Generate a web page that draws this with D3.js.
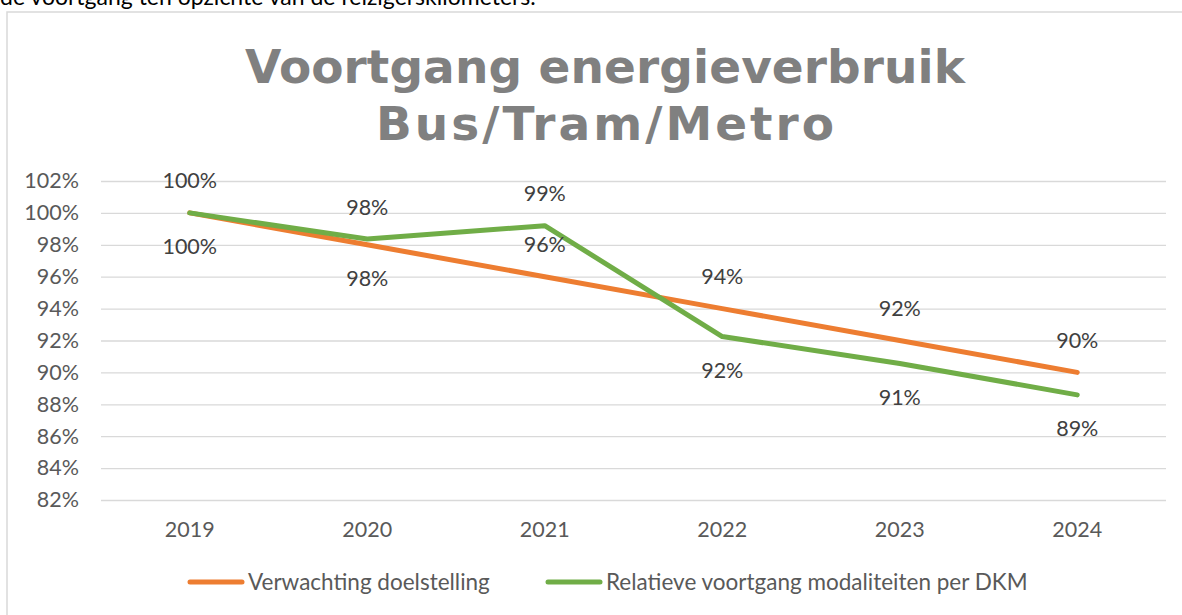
<!DOCTYPE html>
<html>
<head>
<meta charset="utf-8">
<script src="https://cdn.jsdelivr.net/npm/d3@7"></script>
<style>
  html, body { margin: 0; padding: 0; background: #fff; overflow: hidden; }
  svg { display: block; }
</style>
</head>
<body>
<svg id="chart" width="1182" height="615"></svg>
<script>
// ---- data ----
const years = ["2019", "2020", "2021", "2022", "2023", "2024"];
const expected = [100, 98, 96, 94, 92, 90];              // Verwachting doelstelling
const actual = [100, 98.36, 99.2, 92.25, 90.56, 88.59];  // Relatieve voortgang modaliteiten per DKM
const expectedLabels = ["100%", "98%", "96%", "94%", "92%", "90%"];
const actualLabels = ["100%", "98%", "99%", "92%", "91%", "89%"];
const expectedLabelSide = ["below", "below", "above", "above", "above", "above"];
const actualLabelSide = ["above", "above", "above", "below", "below", "below"];
const yTicks = [82, 84, 86, 88, 90, 92, 94, 96, 98, 100, 102];
const seriesNames = ["Verwachting doelstelling", "Relatieve voortgang modaliteiten per DKM"];
const titleLines = ["Voortgang energieverbruik", "Bus/Tram/Metro"];
const introText = "de voortgang ten opzichte van de reizigerskilometers.";

// ---- styles ----
const ORANGE = "#ED7D31", GREEN = "#70AD47";
const FONT = "Lato, 'Open Sans', sans-serif";

const svg = d3.select("#chart");

// text above the chart (cut off at top, as in the source)
svg.append("text").attr("x", 0).attr("y", 5)
  .attr("font-family", "Lato, sans-serif").attr("font-size", 23).attr("fill", "#000")
  .text(introText);

// chart border
svg.append("rect").attr("x", 7).attr("y", 12).attr("width", 1200).attr("height", 620)
  .attr("fill", "#fff").attr("stroke", "#D9D9D9").attr("stroke-width", 1.5);

// title
const titleWidths = [720, 458];
svg.append("g").selectAll("text").data(titleLines).join("text")
  .attr("x", 605).attr("y", (d, i) => 83 + i * 57)
  .attr("text-anchor", "middle")
  .attr("font-family", "'DejaVu Sans', Verdana, sans-serif")
  .attr("font-weight", "bold").attr("font-size", 47).attr("fill", "#808080")
  .attr("textLength", (d, i) => titleWidths[i])
  .attr("lengthAdjust", "spacing")
  .text(d => d);

// scales
const x = d3.scaleBand().domain(years).range([101, 1166]).padding(0);
const y = d3.scaleLinear().domain([82, 102]).range([500, 181]);
const cx = d => x(d) + x.bandwidth() / 2;

// gridlines via axis
const grid = svg.append("g").attr("transform", "translate(101,0)")
  .call(d3.axisLeft(y).tickValues(yTicks).tickSize(-(1166 - 101)).tickFormat(""));
grid.select(".domain").remove();
grid.selectAll("line").attr("stroke", "#D9D9D9").attr("stroke-width", 1.3);

// y-axis labels
const yAxis = svg.append("g").attr("transform", "translate(79,0)")
  .call(d3.axisLeft(y).tickValues(yTicks).tickSize(0).tickPadding(0).tickFormat(d => d + "%"));
yAxis.select(".domain").remove();
yAxis.selectAll("text").attr("font-family", FONT).attr("font-size", 21.5).attr("fill", "#595959");

// x-axis labels
const xAxis = svg.append("g").attr("transform", "translate(0,500)")
  .call(d3.axisBottom(x).tickSize(0).tickPadding(22));
xAxis.select(".domain").remove();
xAxis.selectAll("text").attr("font-family", FONT).attr("font-size", 21.5).attr("fill", "#595959");

// lines
const line = d3.line().x((d, i) => cx(years[i])).y(d => y(d));
svg.append("path").datum(expected).attr("d", line)
  .attr("fill", "none").attr("stroke", ORANGE).attr("stroke-width", 5)
  .attr("stroke-linecap", "round").attr("stroke-linejoin", "round");
svg.append("path").datum(actual).attr("d", line)
  .attr("fill", "none").attr("stroke", GREEN).attr("stroke-width", 5)
  .attr("stroke-linecap", "round").attr("stroke-linejoin", "round");

// data labels
function addLabels(vals, labels, sides) {
  svg.append("g").selectAll("text").data(vals).join("text")
    .attr("x", (d, i) => cx(years[i]))
    .attr("y", (d, i) => y(d) + (sides[i] === "above" ? -32 : 34))
    .attr("dy", "0.35em")
    .attr("text-anchor", "middle")
    .attr("font-family", FONT).attr("font-size", 21.5).attr("fill", "#404040")
    .text((d, i) => labels[i]);
}
addLabels(expected, expectedLabels, expectedLabelSide);
addLabels(actual, actualLabels, actualLabelSide);

// legend
const legendItems = [
  { name: seriesNames[0], color: ORANGE, x: 188 },
  { name: seriesNames[1], color: GREEN, x: 546 }
];
const lg = svg.append("g").selectAll("g").data(legendItems).join("g")
  .attr("transform", d => `translate(${d.x},582)`);
lg.append("line").attr("x1", 2).attr("x2", 54).attr("y1", 0).attr("y2", 0)
  .attr("stroke", d => d.color).attr("stroke-width", 5).attr("stroke-linecap", "round");
lg.append("text").attr("x", 60).attr("y", 0).attr("dy", "0.35em")
  .attr("font-family", FONT).attr("font-size", 22.5).attr("fill", "#595959")
  .text(d => d.name);
</script>
</body>
</html>
